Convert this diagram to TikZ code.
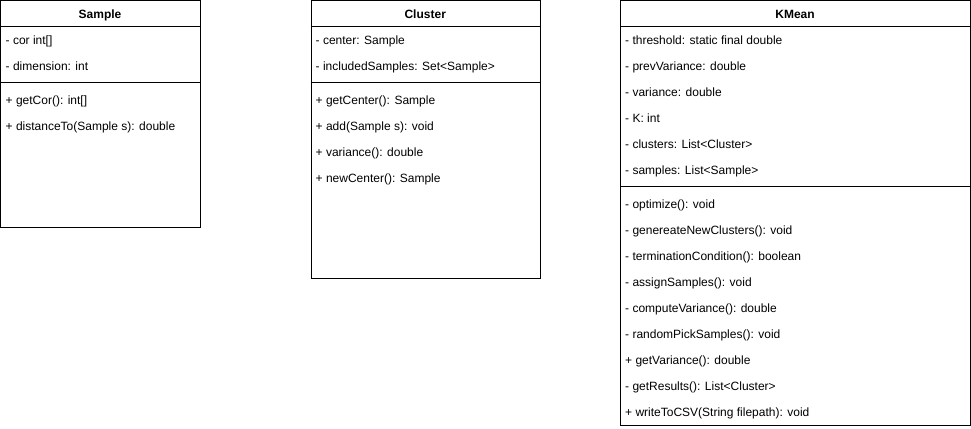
\documentclass[tikz,border=0pt]{standalone}
\usepackage{fontspec}
\setmainfont{Liberation Sans}
\begin{document}
\begin{tikzpicture}[x=1pt,y=-1pt,
  classbox/.style={draw=black, line width=1pt, anchor=north west, inner sep=0pt, fill=white},
  title/.style={font=\fontsize{12}{14}\selectfont\bfseries, inner sep=0pt, anchor=base},
  member/.style={font=\fontsize{12}{14}\selectfont, inner sep=0pt, anchor=base west},
  sep/.style={line width=1pt}]
\useasboundingbox (0,0) rectangle (971,428);
% Sample
\node[classbox, minimum width=200pt, minimum height=226.5pt] (sample) at (0,0.5) {};
\node[title] (sampleT) at (100,18.5) {Sample};
\draw[sep] (sample.west |- 0,27) -- (sample.east |- 0,27);
\draw[sep] (sample.west |- 0,82) -- (sample.east |- 0,82);
\node[member] (s1) at (5.5,44.5) {- cor int[]};
\node[member] (s2) at (5.5,70.5) {- dimension: int};
\node[member] (s3) at (5.5,104.5) {+ getCor(): int[]};
\node[member] (s4) at (5.5,130.5) {+ distanceTo(Sample s): double};
% Cluster
\node[classbox, minimum width=229.5pt, minimum height=277pt] (cluster) at (310.5,0.5) {};
\node[title] (clusterT) at (425.25,18.5) {Cluster};
\draw[sep] (cluster.west |- 0,27) -- (cluster.east |- 0,27);
\draw[sep] (cluster.west |- 0,82.5) -- (cluster.east |- 0,82.5);
\node[member] (c1) at (315.5,44.5) {- center: Sample};
\node[member] (c2) at (315.5,70.5) {- includedSamples: Set<Sample>};
\node[member] (c3) at (315.5,104.5) {+ getCenter(): Sample};
\node[member] (c4) at (315.5,130.5) {+ add(Sample s): void};
\node[member] (c5) at (315.5,156.5) {+ variance(): double};
\node[member] (c6) at (315.5,182.5) {+ newCenter(): Sample};
% KMean
\node[classbox, minimum width=350pt, minimum height=424pt] (kmean) at (620,0.5) {};
\node[title] (kmeanT) at (795,18.5) {KMean};
\draw[sep] (kmean.west |- 0,26.5) -- (kmean.east |- 0,26.5);
\draw[sep] (kmean.west |- 0,186) -- (kmean.east |- 0,186);
\node[member] (k1) at (625,44.5) {- threshold: static final double};
\node[member] (k2) at (625,70.5) {- prevVariance: double};
\node[member] (k3) at (625,96.5) {- variance: double};
\node[member] (k4) at (625,122.5) {- K: int};
\node[member] (k5) at (625,148.5) {- clusters: List<Cluster>};
\node[member] (k6) at (625,174.5) {- samples: List<Sample>};
\node[member] (k7) at (625,208.5) {- optimize(): void};
\node[member] (k8) at (625,234.5) {- genereateNewClusters(): void};
\node[member] (k9) at (625,260.5) {- terminationCondition(): boolean};
\node[member] (k10) at (625,286.5) {- assignSamples(): void};
\node[member] (k11) at (625,312.5) {- computeVariance(): double};
\node[member] (k12) at (625,338.5) {- randomPickSamples(): void};
\node[member] (k13) at (625,364.5) {+ getVariance(): double};
\node[member] (k14) at (625,390.5) {- getResults(): List<Cluster>};
\node[member] (k15) at (625,416.5) {+ writeToCSV(String filepath): void};
\end{tikzpicture}
\end{document}
